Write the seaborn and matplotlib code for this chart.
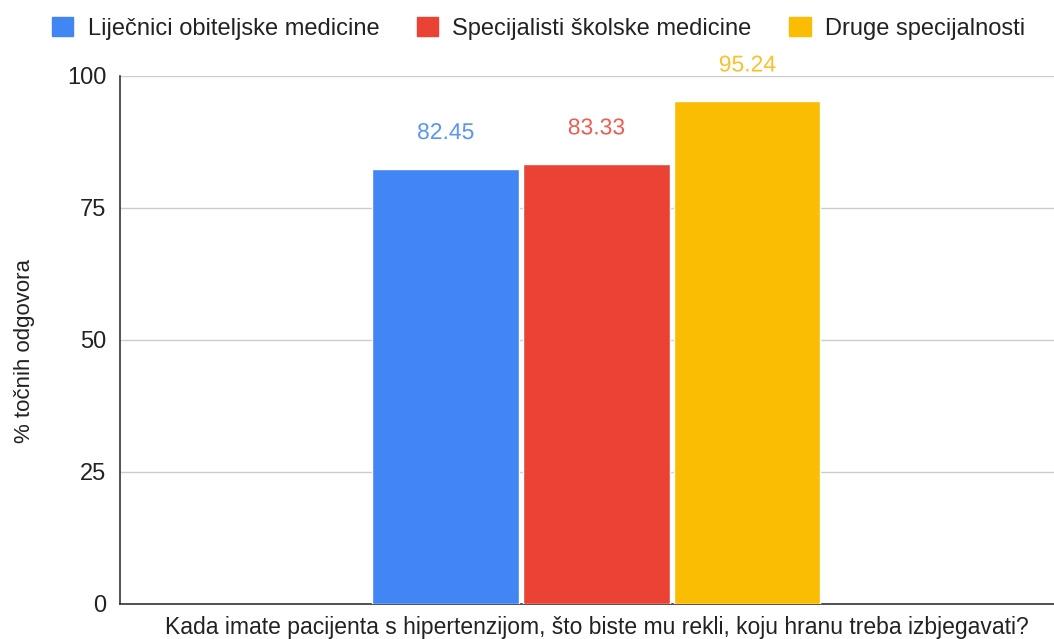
import matplotlib
matplotlib.use("Agg")
import matplotlib.pyplot as plt
import matplotlib.patheffects as pe
from matplotlib.patches import Patch
import pandas as pd
import seaborn as sns

# data
question = ["Kada imate pacijenta s hipertenzijom, što biste mu rekli, koju hranu treba izbjegavati?"]
groups = ["Liječnici obiteljske medicine", "Specijalisti školske medicine", "Druge specijalnosti"]
values = [82.45, 83.33, 95.24]
colors = ["#4285F4", "#EA4335", "#FBBC04"]
label_colors = ["#5b95f5", "#ec5f54", "#fbc02d"]
yticks = [0, 25, 50, 75, 100]

df = pd.DataFrame({"q": question * len(groups), "grupa": groups, "val": values})

sns.set_theme(style="white")
plt.rcParams["font.family"] = ["Liberation Sans", "DejaVu Sans"]

fig = plt.figure(figsize=(10.54, 6.39), dpi=100)
ax = fig.add_axes([0.1139, 0.0548, 0.904, 0.8263])

sns.barplot(data=df, x="q", y="val", hue="grupa", hue_order=groups,
            palette=colors, width=0.475, gap=0.03, saturation=1,
            legend=False, ax=ax, zorder=3)

ax.set_xlim(-0.5, 0.5)
ax.set_ylim(0, 100)
ax.set_yticks(yticks)
ax.set_yticklabels([str(t) for t in yticks], fontsize=17, color="#222222")
ax.tick_params(axis="x", labelsize=16.5, colors="#222222", length=0, pad=9)
ax.tick_params(axis="y", length=0, pad=10)
ax.yaxis.grid(True, color="#cccccc", linewidth=1, zorder=0)
ax.set_axisbelow(True)
ax.set_xlabel("")
ax.set_ylabel("% točnih odgovora", fontsize=16, color="#222222")
ax.yaxis.set_label_coords(-0.089, 0.48)

for s in ["top", "right"]:
    ax.spines[s].set_visible(False)
for s in ["left", "bottom"]:
    ax.spines[s].set_color("#333333")
    ax.spines[s].set_linewidth(1.2)

for bar, v, c in zip(ax.patches, values, label_colors):
    ax.annotate(f"{v:.2f}", (bar.get_x() + bar.get_width() / 2, v),
                xytext=(0, 26), textcoords="offset points", ha="center", va="center",
                fontsize=16.5, color=c, zorder=5,
                path_effects=[pe.withStroke(linewidth=4, foreground="white")])

handles = [Patch(facecolor=c, edgecolor=c) for c in colors]
fig.legend(handles, groups, loc="upper center", bbox_to_anchor=(0.511, 1.007), ncol=3,
           frameon=False, fontsize=17, handlelength=0.9, handleheight=0.9,
           handletextpad=0.6, columnspacing=1.6, labelcolor="#222222")

fig.savefig("out.png", dpi=100, facecolor="white")
